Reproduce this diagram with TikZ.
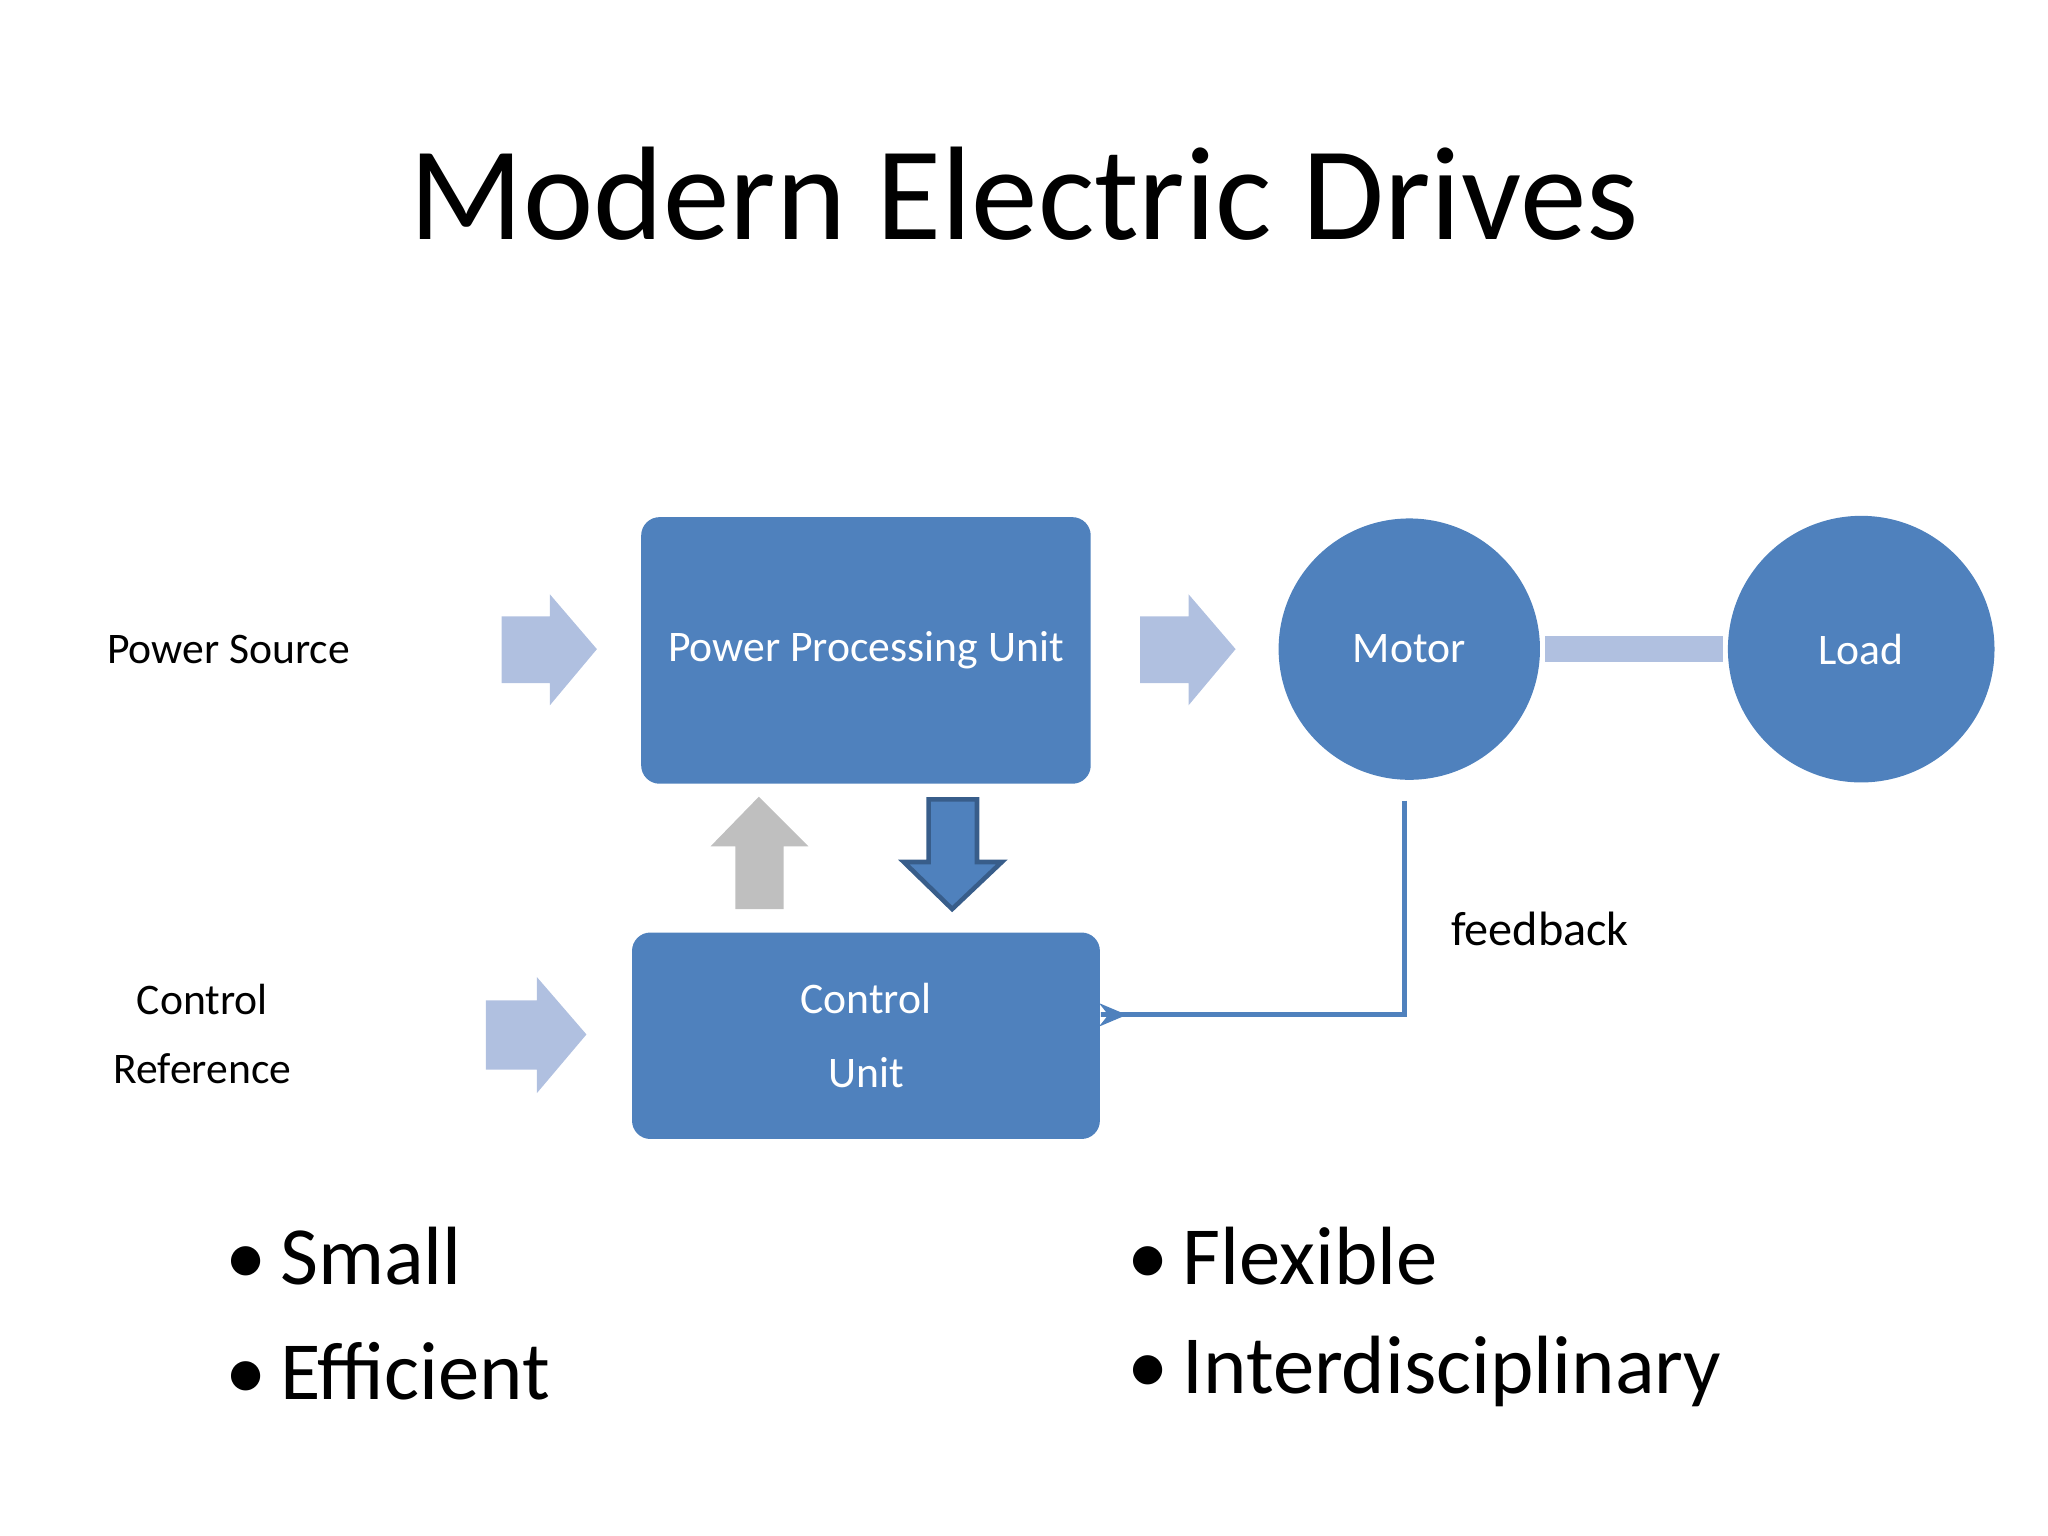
\documentclass[tikz,border=0pt]{standalone}
\usepackage{fontspec}
\setmainfont{Carlito}
\usetikzlibrary{arrows.meta}
\definecolor{blk}{HTML}{4F81BD}
\definecolor{blkd}{HTML}{385D8A}
\definecolor{lite}{HTML}{B0C0E0}
\definecolor{gry}{HTML}{BFBFBF}
\begin{document}
\begin{tikzpicture}[x=0.01cm,y=-0.01cm,
  box/.style={draw=none,fill=blk,rounded corners=4pt,text=white,font=\fontsize{9.5}{16}\selectfont,align=center},
  circ/.style={circle,fill=blk,text=white,minimum size=5.7cm,inner sep=0pt,font=\fontsize{9.5}{12}\selectfont},
  lbl/.style={font=\fontsize{9.5}{15}\selectfont,align=center},
  bul/.style={font=\fontsize{18}{22}\selectfont,anchor=west}]
\useasboundingbox (0,0) rectangle (1568,1176);
\node[font=\fontsize{29}{34}\selectfont] (title) at (784,148) {Modern Electric Drives};
\node[box,minimum width=3.44cm,minimum height=2.04cm] (ppu) at (663,498) {Power Processing Unit};
\node[box,minimum width=3.58cm,minimum height=1.58cm] (cu) at (663,793) {Control\\Unit};
\node[circle,fill=blk,text=white,minimum size=2cm,inner sep=0pt,font=\fontsize{9.5}{12}\selectfont] (motor) at (1079,497) {Motor};
\node[circle,fill=blk,text=white,minimum size=2.04cm,inner sep=0pt,font=\fontsize{9.5}{12}\selectfont] (load) at (1425,497) {Load};
\fill[lite] (1183,487) rectangle (1319,507);
\node[lbl] (ps) at (175,497) {Power Source};
\node[lbl] (cr) at (155,792) {Control\\Reference};
\node[lbl,font=\fontsize{10.5}{14}\selectfont] (fb) at (1179,711) {feedback};
% block arrows
\fill[lite] (384,472) -- (421,472) -- (421,455) -- (457,497) -- (421,540) -- (421,523) -- (384,523) -- cycle;
\fill[lite] (873,472) -- (910,472) -- (910,455) -- (946,497) -- (910,540) -- (910,523) -- (873,523) -- cycle;
\fill[lite] (372,766) -- (411,766) -- (411,748) -- (449,792) -- (411,837) -- (411,819) -- (372,819) -- cycle;
\fill[gry] (563,696) -- (563,648) -- (544,648) -- (581,610) -- (619,648) -- (600,648) -- (600,696) -- cycle;
\filldraw[fill=blk,draw=blkd,line width=1pt] (711,612) -- (748,612) -- (748,660) -- (767,660) -- (729,696) -- (692,660) -- (711,660) -- cycle;
% feedback
\coordinate (fs) at (1075,613);
\coordinate (fc) at (1075,777);
\draw[blk,line width=1.1pt,-{Stealth[length=6pt,width=5pt]}] (fs) -- (fc) -- (cu.east |- fc) -- ++(20,0);
\node[bul] (b1) at (160,962) {\textbullet\,Small};
\node[bul] (b2) at (160,1050) {\textbullet\,Efficient};
\node[bul] (b3) at (851,962) {\textbullet\,Flexible};
\node[bul] (b4) at (851,1050) {\textbullet\,Interdisciplinary};
\end{tikzpicture}
\end{document}
